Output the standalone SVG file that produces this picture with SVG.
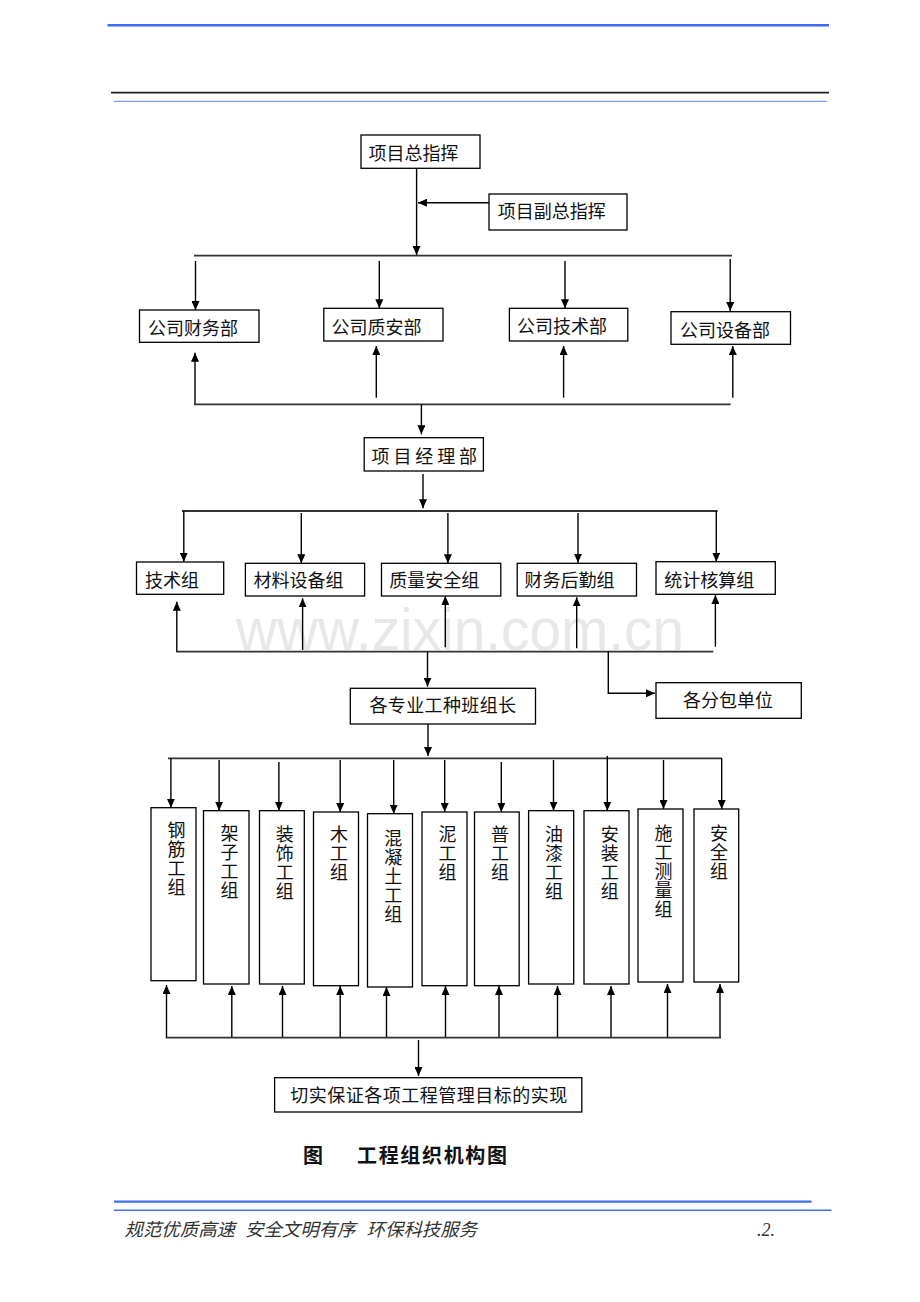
<svg xmlns="http://www.w3.org/2000/svg" width="920" height="1302" viewBox="0 0 920 1302">
<defs>
<marker id="ah" markerUnits="userSpaceOnUse" markerWidth="10" markerHeight="8" refX="9" refY="4" orient="auto">
<path d="M0,0 L9,4 L0,8 z" fill="#000"/>
</marker>
<style>
.box{fill:#fff;stroke:#000;stroke-width:1.3}
.t{font-family:"Noto Sans CJK SC","Liberation Sans",sans-serif;font-size:18px;fill:#111}
.v{font-family:"Noto Sans CJK SC","Liberation Sans",sans-serif;font-size:18px;fill:#111;writing-mode:vertical-rl;letter-spacing:1px}
.bus{stroke:#333;stroke-width:1.8;fill:none}
.ar{stroke:#000;stroke-width:1.4;fill:none;marker-end:url(#ah)}
.wm{font-family:"Liberation Sans",Arial,sans-serif;font-size:60px;fill:#e8e8e8}
.ft{font-family:"Noto Sans CJK SC","Liberation Serif",serif;font-size:18px;font-style:italic;fill:#333}
</style>
</defs>
<rect width="920" height="1302" fill="#fff"/>
<g id="header">
<line x1="107.5" y1="25.3" x2="829" y2="25.3" stroke="#3f6ef5" stroke-width="2.5"/>
<line x1="111" y1="92.7" x2="829" y2="92.7" stroke="#222" stroke-width="1.8"/>
<line x1="114" y1="101.3" x2="827" y2="101.3" stroke="#7a9cf7" stroke-width="1.2"/>
</g>
<text class="wm" x="236" y="650" textLength="448" lengthAdjust="spacingAndGlyphs">www.zixin.com.cn</text>
<g id="connectors">
<line class="ar" x1="416.6" y1="168.3" x2="416.6" y2="255"/>
<line class="ar" x1="489" y1="202.7" x2="418" y2="202.7"/>
<line class="bus" x1="194" y1="255.7" x2="732" y2="255.7"/>
<line class="ar" x1="195.5" y1="261" x2="195.5" y2="310"/>
<line class="ar" x1="379.3" y1="261" x2="379.3" y2="308.3"/>
<line class="ar" x1="565" y1="261" x2="565" y2="308.3"/>
<line class="ar" x1="730.2" y1="259" x2="730.2" y2="311"/>
<line class="ar" x1="195" y1="404.3" x2="195" y2="352.7"/>
<line class="ar" x1="376.3" y1="397.7" x2="376.3" y2="346"/>
<line class="ar" x1="563.6" y1="397.7" x2="563.6" y2="346"/>
<line class="ar" x1="732.8" y1="397.7" x2="732.8" y2="346"/>
<line class="bus" x1="194" y1="404.3" x2="730.6" y2="404.3"/>
<line class="ar" x1="421.4" y1="404.3" x2="421.4" y2="434.3"/>
<line class="ar" x1="423" y1="474" x2="423" y2="508.3"/>
<line class="bus" x1="182" y1="511" x2="717.6" y2="511"/>
<line class="ar" x1="183.8" y1="511" x2="183.8" y2="561.7"/>
<line class="ar" x1="301.3" y1="513" x2="301.3" y2="563.3"/>
<line class="ar" x1="447.9" y1="513" x2="447.9" y2="563.3"/>
<line class="ar" x1="578" y1="513" x2="578" y2="562.7"/>
<line class="ar" x1="716.3" y1="511" x2="716.3" y2="561.7"/>
<line class="ar" x1="176.8" y1="652.3" x2="176.8" y2="601.7"/>
<line class="ar" x1="302.6" y1="650" x2="302.6" y2="598.3"/>
<line class="ar" x1="445.3" y1="647.3" x2="445.3" y2="596"/>
<line class="ar" x1="576.7" y1="648.3" x2="576.7" y2="597.3"/>
<line class="ar" x1="715.4" y1="646.7" x2="715.4" y2="595"/>
<line class="bus" x1="176.8" y1="651.7" x2="713.3" y2="651.7"/>
<line class="ar" x1="427.5" y1="651.7" x2="427.5" y2="686.7"/>
<polyline class="ar" points="608.3,651.7 608.3,693.3 655,693.3"/>
<line class="ar" x1="428" y1="724" x2="428" y2="756"/>
<line class="bus" x1="168" y1="758.3" x2="722" y2="758.3"/>
<line class="ar" x1="170.9" y1="758.3" x2="170.9" y2="807.7"/>
<line class="ar" x1="219.1" y1="760" x2="219.1" y2="810.7"/>
<line class="ar" x1="278.9" y1="762" x2="278.9" y2="810.7"/>
<line class="ar" x1="340.2" y1="760" x2="340.2" y2="812"/>
<line class="ar" x1="393.7" y1="760" x2="393.7" y2="813.7"/>
<line class="ar" x1="444.7" y1="760" x2="444.7" y2="812"/>
<line class="ar" x1="501.3" y1="762" x2="501.3" y2="812"/>
<line class="ar" x1="553.5" y1="760" x2="553.5" y2="810.7"/>
<line class="ar" x1="607.3" y1="756" x2="607.3" y2="810.7"/>
<line class="ar" x1="663.5" y1="760" x2="663.5" y2="809"/>
<line class="ar" x1="721.7" y1="758.3" x2="721.7" y2="809"/>
<line class="ar" x1="166.5" y1="1037.7" x2="166.5" y2="985"/>
<line class="ar" x1="231.8" y1="1037.7" x2="231.8" y2="986"/>
<line class="ar" x1="282.5" y1="1037.7" x2="282.5" y2="986"/>
<line class="ar" x1="340.2" y1="1037.7" x2="340.2" y2="986"/>
<line class="ar" x1="386.5" y1="1037.7" x2="386.5" y2="987"/>
<line class="ar" x1="445.5" y1="1037.7" x2="445.5" y2="986"/>
<line class="ar" x1="499" y1="1037.7" x2="499" y2="986"/>
<line class="ar" x1="557.5" y1="1037.7" x2="557.5" y2="986"/>
<line class="ar" x1="611" y1="1037.7" x2="611" y2="986"/>
<line class="ar" x1="667.5" y1="1037.7" x2="667.5" y2="984"/>
<line class="ar" x1="720" y1="1037.7" x2="720" y2="984"/>
<line class="bus" x1="165.7" y1="1037.7" x2="721" y2="1037.7"/>
<line class="ar" x1="418.5" y1="1040" x2="418.5" y2="1076"/>
</g>
<g id="n-zongzhihui"><rect class="box" x="361" y="135" width="119" height="33.3"/><text class="t" x="368.5" y="160">项目总指挥</text></g>
<g id="n-fuzongzhihui"><rect class="box" x="489" y="194" width="138" height="36"/><text class="t" x="497.7" y="218">项目副总指挥</text></g>
<g id="n-caiwubu"><rect class="box" x="139.5" y="310" width="119.5" height="32.3"/><text class="t" x="148" y="335">公司财务部</text></g>
<g id="n-zhianbu"><rect class="box" x="323.8" y="308.3" width="119.2" height="32.7"/><text class="t" x="331.6" y="333.5">公司质安部</text></g>
<g id="n-jishubu"><rect class="box" x="509.4" y="308.3" width="118.4" height="32.7"/><text class="t" x="517" y="333">公司技术部</text></g>
<g id="n-shebeibu"><rect class="box" x="671" y="311.7" width="119.5" height="32.6"/><text class="t" x="680" y="337">公司设备部</text></g>
<g id="n-jinglibu"><rect class="box" x="364.2" y="437.7" width="119.2" height="33.3"/><text class="t" x="371.5" y="462.5" textLength="105.5" lengthAdjust="spacing">项目经理部</text></g>
<g id="n-jishuzu"><rect class="box" x="136.5" y="562" width="87.2" height="32.3"/><text class="t" x="145" y="586.5">技术组</text></g>
<g id="n-cailiao"><rect class="box" x="245.4" y="563.3" width="119.2" height="32.7"/><text class="t" x="253.6" y="587">材料设备组</text></g>
<g id="n-zhiliang"><rect class="box" x="381.5" y="563.3" width="119.3" height="32.7"/><text class="t" x="389.3" y="587">质量安全组</text></g>
<g id="n-caiwu"><rect class="box" x="517.2" y="563.3" width="119.3" height="32.7"/><text class="t" x="524.6" y="587">财务后勤组</text></g>
<g id="n-tongji"><rect class="box" x="656" y="561.7" width="119.3" height="32.6"/><text class="t" x="664.3" y="586.5">统计核算组</text></g>
<g id="n-banzuzhang"><rect class="box" x="350.3" y="688.3" width="185.2" height="35.7"/><text class="t" x="369.4" y="712" textLength="146.6" lengthAdjust="spacing">各专业工种班组长</text></g>
<g id="n-fenbao"><rect class="box" x="656" y="682.7" width="145.3" height="35.6"/><text class="t" x="683" y="707">各分包单位</text></g>
<g id="n-g1"><rect class="box" x="151" y="807.7" width="45" height="173"/><text class="v" x="176.4" y="821">钢筋工组</text></g>
<g id="n-g2"><rect class="box" x="203.5" y="810.7" width="45.5" height="173.3"/><text class="v" x="229.4" y="824">架子工组</text></g>
<g id="n-g3"><rect class="box" x="259.5" y="810.7" width="44.8" height="173.3"/><text class="v" x="284.8" y="825">装饰工组</text></g>
<g id="n-g4"><rect class="box" x="313.5" y="812" width="45" height="173.7"/><text class="v" x="339" y="825">木工组</text></g>
<g id="n-g5"><rect class="box" x="367.5" y="813.7" width="45" height="173.3"/><text class="v" x="393.3" y="829">混凝土工组</text></g>
<g id="n-g6"><rect class="box" x="422" y="812" width="45" height="173.7"/><text class="v" x="447.5" y="825">泥工组</text></g>
<g id="n-g7"><rect class="box" x="474.5" y="812" width="44.7" height="173.7"/><text class="v" x="500" y="825">普工组</text></g>
<g id="n-g8"><rect class="box" x="528.6" y="810.7" width="45.1" height="173.3"/><text class="v" x="554" y="825.5">油漆工组</text></g>
<g id="n-g9"><rect class="box" x="584" y="810.7" width="45" height="173.3"/><text class="v" x="609.7" y="825.5">安装工组</text></g>
<g id="n-g10"><rect class="box" x="638" y="809" width="45" height="173"/><text class="v" x="663.5" y="824">施工测量组</text></g>
<g id="n-g11"><rect class="box" x="694" y="809" width="44.7" height="173"/><text class="v" x="719" y="824">安全组</text></g>
<g id="n-mubiao"><rect class="box" x="274.6" y="1077.7" width="307.2" height="34.3"/><text class="t" x="290.2" y="1102" textLength="277" lengthAdjust="spacing">切实保证各项工程管理目标的实现</text></g>
<g id="title">
<text class="t" x="303" y="1162.5" style="font-size:20px;font-weight:bold">图</text>
<text class="t" x="357" y="1162.5" style="font-size:20px;font-weight:bold" textLength="150" lengthAdjust="spacing">工程组织机构图</text>
</g>
<g id="footer">
<line x1="114" y1="1201.7" x2="811.6" y2="1201.7" stroke="#3f6ef5" stroke-width="2.2"/>
<line x1="114" y1="1210.3" x2="831.5" y2="1210.3" stroke="#3f6ef5" stroke-width="1.5"/>
<text class="ft" x="124.5" y="1236" textLength="110.5" lengthAdjust="spacingAndGlyphs">规范优质高速</text>
<text class="ft" x="245" y="1236" textLength="110.5" lengthAdjust="spacingAndGlyphs">安全文明有序</text>
<text class="ft" x="366.6" y="1236" textLength="110.5" lengthAdjust="spacingAndGlyphs">环保科技服务</text>
<text class="ft" x="757" y="1236" style="font-family:'Liberation Serif',serif">.2.</text>
</g>
</svg>
